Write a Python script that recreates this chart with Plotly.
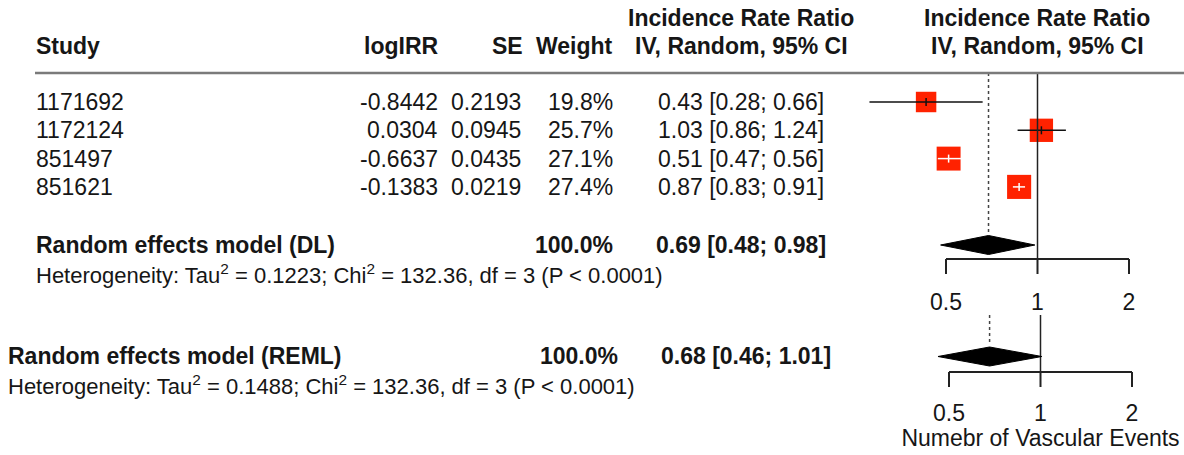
import math
import plotly.graph_objects as go

# ---- data -------------------------------------------------------------
studies = ["1171692", "1172124", "851497", "851621"]
log_irr = [-0.8442, 0.0304, -0.6637, -0.1383]
se = [0.2193, 0.0945, 0.0435, 0.0219]
weights = [19.8, 25.7, 27.1, 27.4]
irr = [0.43, 1.03, 0.51, 0.87]
ci_lo = [0.28, 0.86, 0.47, 0.83]
ci_hi = [0.66, 1.24, 0.56, 0.91]

models = ["Random effects model (DL)", "Random effects model (REML)"]
model_weight = [100.0, 100.0]
model_irr = [0.69, 0.68]
model_lo = [0.48, 0.46]
model_hi = [0.98, 1.01]
tau2 = [0.1223, 0.1488]
chi2 = [132.36, 132.36]
df_het = [3, 3]

axis_ticks = [0.5, 1, 2]
x_title = "Numebr of Vascular Events"

# ---- layout constants (pixels) -----------------------------------------
W, H = 1184, 455
FONT = "Liberation Sans, Arial, sans-serif"
TXT = "#161616"
FS = 23          # main table text
FS_HET = 22      # heterogeneity lines
FS_AX = 23       # forest axis text
RED = "#ff2200"
PAD = 3          # annotation box padding compensation

row_y = [102 + 28.3 * i for i in range(len(studies))]
hdr_y = (18, 46)
rule_y = 73

# the two forest panels: pixel position of 0.5 and 2 on each axis
panels = [
    dict(axis="x", px05=946, px2=1129, top=rule_y, diam_y=245, axis_y=259,
         lab_y=304, model=0),
    dict(axis="x2", px05=949, px2=1132, top=315, diam_y=356.5, axis_y=372,
         lab_y=415, model=1),
]

col_study = 37
col_logirr = 437
col_se = 520
col_w = 612
col_ci = 741


def axis_setup(px05, px2, left=800, right=W):
    ppd = (px2 - px05) / math.log10(4)
    r0 = math.log10(0.5) + (left - px05) / ppd
    r1 = math.log10(0.5) + (right - px05) / ppd
    return dict(type="log", range=[r0, r1], domain=[left / W, right / W],
                visible=False, fixedrange=True, anchor="y"), ppd


fig = go.Figure()
annotations = []


def text(x, y, s, anchor="left", size=FS, bold=False):
    if bold:
        s = "<b>" + s + "</b>"
    if anchor == "left":
        x -= PAD
    elif anchor == "right":
        x += PAD
    annotations.append(dict(
        x=x / W, y=y, xref="paper", yref="y", text=s, showarrow=False,
        xanchor=anchor, yanchor="middle",
        font=dict(family=FONT, size=size, color=TXT)))


# ---- table header -------------------------------------------------------
text(col_study, hdr_y[1], "Study", bold=True)
text(col_logirr, hdr_y[1], "logIRR", anchor="right", bold=True)
text(col_se + 2, hdr_y[1], "SE", anchor="right", bold=True)
text(col_w, hdr_y[1], "Weight", anchor="right", bold=True)
text(col_ci, hdr_y[0], "Incidence Rate Ratio", anchor="center", bold=True)
text(col_ci, hdr_y[1], "IV, Random, 95% CI", anchor="center", bold=True)
text(1037, hdr_y[0], "Incidence Rate Ratio", anchor="center", bold=True)
text(1037, hdr_y[1], "IV, Random, 95% CI", anchor="center", bold=True)

# ---- study rows ---------------------------------------------------------
for i, s in enumerate(studies):
    y = row_y[i]
    text(col_study, y, s)
    text(col_logirr, y, f"{log_irr[i]:.4f}", anchor="right")
    text(col_se, y, f"{se[i]:.4f}", anchor="right")
    text(col_w, y, f"{weights[i]:.1f}%", anchor="right")
    text(col_ci, y, f"{irr[i]:.2f} [{ci_lo[i]:.2f}; {ci_hi[i]:.2f}]",
         anchor="center")

# ---- pooled rows --------------------------------------------------------
model_rows = [
    dict(left=37, y=245, het_y=274, wr=612, cc=741),
    dict(left=9, y=356, het_y=385, wr=617, cc=746),
]
for m, r in enumerate(model_rows):
    text(r["left"], r["y"], models[m], bold=True)
    text(r["wr"], r["y"], f"{model_weight[m]:.1f}%", anchor="right", bold=True)
    text(r["cc"], r["y"],
         f"{model_irr[m]:.2f} [{model_lo[m]:.2f}; {model_hi[m]:.2f}]",
         anchor="center", bold=True)
    text(r["left"], r["het_y"],
         f"Heterogeneity: Tau<sup>2</sup> = {tau2[m]:.4f}; "
         f"Chi<sup>2</sup> = {chi2[m]:.2f}, df = {df_het[m]} (P < 0.0001)",
         size=FS_HET)

# header rule
shapes = [dict(type="line", xref="paper", yref="y", x0=35 / W, x1=1,
               y0=rule_y, y1=rule_y, line=dict(color="#7a7a7a", width=2.5))]

# ---- forest panels ------------------------------------------------------
axes = {}
for p in panels:
    ax, ppd = axis_setup(p["px05"], p["px2"])
    axes[p["axis"]] = ax
    p["ppd"] = ppd

top = panels[0]


def px(v, p):
    return p["px05"] + p["ppd"] * math.log10(v / 0.5)


# study squares and confidence intervals (top panel)
sizes = [4.6 * math.sqrt(w) for w in weights]
black_x, black_y, white_x, white_y = [], [], [], []
for i in range(len(studies)):
    y = row_y[i]
    half = sizes[i] / 2 + 1
    inside = (px(ci_lo[i], top) > px(irr[i], top) - half and
              px(ci_hi[i], top) < px(irr[i], top) + half)
    bx, by = (white_x, white_y) if inside else (black_x, black_y)
    bx += [ci_lo[i], ci_hi[i], None, irr[i], irr[i], None]
    by += [y, y, None, y - 4, y + 4, None]

fig.add_trace(go.Scatter(
    x=irr, y=row_y, mode="markers", xaxis="x", yaxis="y", opacity=1,
    marker=dict(symbol="square", size=sizes, color=RED, opacity=1,
                line=dict(width=0)), hoverinfo="skip"))
fig.add_trace(go.Scatter(x=black_x, y=black_y, mode="lines", xaxis="x",
                         yaxis="y", line=dict(color="#111", width=1.5),
                         hoverinfo="skip"))
fig.add_trace(go.Scatter(x=white_x, y=white_y, mode="lines", xaxis="x",
                         yaxis="y", line=dict(color="white", width=1.5),
                         hoverinfo="skip"))

for p in panels:
    m = p["model"]
    xa = p["axis"]
    dy = p["diam_y"]
    h = 9.5
    # pooled estimate reference (dotted)
    fig.add_trace(go.Scatter(
        x=[model_irr[m], model_irr[m]], y=[p["top"], dy - h - 2],
        mode="lines", xaxis=xa, yaxis="y",
        line=dict(color="#444", width=1.5, dash="dot"), hoverinfo="skip"))
    # line of no effect
    fig.add_trace(go.Scatter(
        x=[1, 1], y=[p["top"], p["axis_y"]], mode="lines", xaxis=xa,
        yaxis="y", line=dict(color="#222", width=1.5), hoverinfo="skip"))
    # diamond
    fig.add_trace(go.Scatter(
        x=[model_lo[m], model_irr[m], model_hi[m], model_irr[m], model_lo[m]],
        y=[dy, dy - h, dy, dy + h, dy], mode="lines", fill="toself",
        fillcolor="black", xaxis=xa, yaxis="y",
        line=dict(color="black", width=1), hoverinfo="skip"))
    # x axis line and ticks
    ax_x = [axis_ticks[0], axis_ticks[-1], None]
    ax_y = [p["axis_y"], p["axis_y"], None]
    for t in axis_ticks:
        ax_x += [t, t, None]
        ax_y += [p["axis_y"], p["axis_y"] + 15, None]
    fig.add_trace(go.Scatter(
        x=ax_x, y=ax_y, mode="lines", xaxis=xa, yaxis="y",
        line=dict(color="#222", width=2), hoverinfo="skip"))
    fig.add_trace(go.Scatter(
        x=axis_ticks, y=[p["lab_y"]] * len(axis_ticks), mode="text",
        text=[f"{t:g}" for t in axis_ticks], textposition="middle center",
        textfont=dict(family=FONT, size=FS_AX, color=TXT), xaxis=xa,
        yaxis="y", cliponaxis=False, hoverinfo="skip"))

fig.add_trace(go.Scatter(
    x=[1], y=[440], mode="text", text=[x_title], textposition="middle center",
    textfont=dict(family=FONT, size=FS_AX, color=TXT), xaxis="x2", yaxis="y",
    cliponaxis=False, hoverinfo="skip"))

fig.update_layout(
    width=W, height=H, margin=dict(l=0, r=0, t=0, b=0),
    paper_bgcolor="white", plot_bgcolor="rgba(0,0,0,0)",
    showlegend=False, annotations=annotations, shapes=shapes,
    xaxis=axes["x"], xaxis2=axes["x2"],
    yaxis=dict(range=[H, 0], domain=[0, 1], visible=False, fixedrange=True),
)

fig.write_html("out.html")
